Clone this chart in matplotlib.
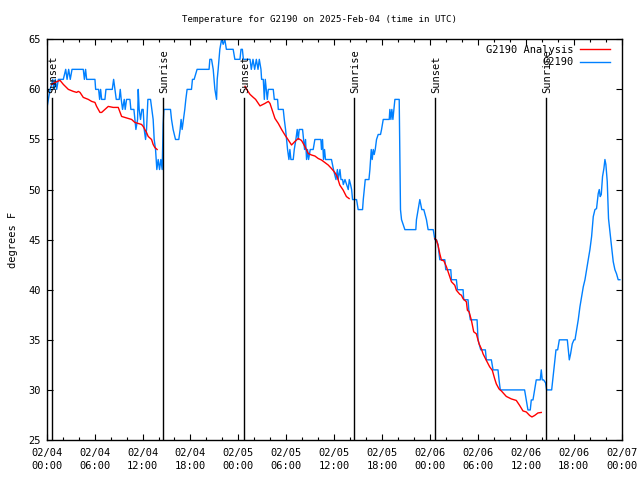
import numpy as np
import matplotlib
matplotlib.use("Agg")
import matplotlib.pyplot as plt
from matplotlib.ticker import MultipleLocator

# ---------------- data (hours since 2025-02-04 00:00 UTC) ----------------
obs_hours = [0.0, 0.21, 0.42, 0.63, 0.75, 0.92, 1.08, 1.25, 1.46, 2.08, 2.38, 2.55, 2.75, 2.95,
             3.17, 3.29, 4.58, 4.72, 4.87, 5.0, 6.04, 6.13, 6.5, 6.63, 6.75, 6.88, 7.29,
             7.42, 8.21, 8.38, 8.54, 8.71, 9.08, 9.21, 9.33, 9.5, 9.71, 9.83, 10.0, 10.42, 10.54,
             10.92, 11.04, 11.17, 11.38, 11.46, 11.58, 11.75, 11.92, 12.08, 12.21, 12.38, 12.5,
             12.67, 13.0, 13.17, 13.33, 13.46, 13.63, 13.79, 13.96, 14.13, 14.29, 14.46, 14.58,
             14.67, 15.5, 15.63, 15.83, 16.13, 16.54, 16.71, 16.83, 16.96, 17.13, 17.29, 17.42,
             17.58, 18.13, 18.25, 18.46, 18.83, 20.33, 20.43, 20.64, 20.85, 21.06, 21.27, 21.35,
             21.47, 21.68, 21.9, 22.1, 22.3, 22.5, 23.35, 23.56, 24.2, 24.33, 24.5, 24.63, 25.46,
             25.62, 25.83, 26.04, 26.25, 26.46, 26.62, 26.83, 26.91, 27.12,
             27.25, 27.37, 27.5, 27.62, 27.75, 28.37, 28.5, 28.91, 29.0, 29.62, 29.75, 29.91,
             30.04, 30.16, 30.33, 30.45, 30.58, 30.87, 31.0, 31.2, 31.37, 31.5, 31.62, 32.04,
             32.16, 32.29, 32.41, 32.54, 32.66, 32.79, 33.0, 33.37, 33.58, 34.33, 34.41, 34.54,
             34.66, 34.79, 34.91, 35.66, 35.91, 36.22, 36.4, 36.5, 36.72, 36.85, 37.05, 37.14,
             37.35, 37.55, 37.76, 37.89, 38.05, 38.18, 38.3, 38.8, 39.0, 39.55, 39.64, 39.76,
             39.89, 40.35, 40.47, 40.55, 40.64, 40.76, 40.89, 41.01, 41.14, 41.3, 41.51, 41.8,
             41.93, 42.14, 42.89, 42.97, 43.1, 43.22, 43.35, 43.47, 43.6, 44.14, 44.3, 44.43,
             44.64, 44.85, 46.22, 46.3, 46.51, 46.72, 46.85, 46.97, 47.22, 47.39, 47.55, 47.76,
             48.4, 48.6, 48.8, 49.0, 49.22, 49.85, 49.97, 50.6, 50.68, 51.3, 51.43, 52.14,
             52.22, 52.76, 52.85, 53.05, 53.89, 54.01, 54.35, 54.93, 55.05, 55.68, 55.89, 56.51,
             56.64, 56.8, 59.84, 60.05, 60.26, 60.55, 60.68, 60.89, 61.1, 61.3, 61.8, 61.93,
             62.05, 62.22, 62.47, 62.6, 63.23, 63.44, 63.65, 63.77, 63.98, 64.19, 65.19, 65.31,
             65.44, 65.6, 65.81, 66.02, 66.15, 66.35, 66.56, 66.77, 66.98, 67.19, 67.4, 67.6,
             67.81, 68.02, 68.23, 68.44, 68.65, 68.85, 69.06, 69.19, 69.31, 69.44, 69.6, 69.77,
             69.9, 70.02, 70.19, 70.35, 70.52, 70.73, 70.94, 71.15, 71.35, 71.56, 71.77]
obs_temps = [58, 59, 60, 60.5, 61, 60, 61, 60, 61, 61, 62, 61, 62, 61,
             62, 62, 62, 61, 62, 61, 61, 60, 60, 59, 60, 59, 59,
             60, 60, 61, 60, 59, 59, 60, 59, 58, 59, 58, 59, 59, 58,
             58, 57, 56, 57, 60, 58, 57, 58, 58, 56, 55, 56,
             59, 59, 58, 57, 55, 54, 52, 53, 52, 53, 52, 56.5,
             58, 58, 57, 56, 55, 55, 56, 57, 56, 57, 58, 59,
             60, 60, 61, 61, 62, 62, 63, 63, 62, 60, 59, 61,
             62, 64, 65, 64.5, 65, 64, 64, 63, 63, 64, 64, 63, 63,
             62, 63, 62, 63, 62, 63, 62, 61, 61,
             59, 61, 60, 59, 60, 60, 59, 59, 58, 58, 57, 56,
             55, 54, 53, 54, 53, 53, 54, 55, 56, 55, 56, 56,
             55, 54, 55, 53, 54, 53, 54, 54, 55, 55, 54, 55,
             53, 54, 53, 53, 52, 51, 52, 51, 52, 51, 51, 50.5,
             51, 50.5, 50, 51, 50.5, 50, 49, 49, 48, 48, 49, 50,
             51, 51, 52, 53, 54, 53, 54, 53.5, 54, 55, 55.5, 55.5,
             56, 57, 57, 58, 57, 58, 57, 58, 59, 59, 48, 47,
             46.5, 46, 46, 47, 48, 49, 48.5, 48, 48, 47.5, 47, 46,
             46, 45, 45, 44.5, 43, 43, 42, 42, 41, 41, 40, 40,
             39, 39, 38, 37, 37, 35, 34, 34, 33, 33, 32, 32,
             31, 30, 30, 29, 28, 28, 29, 29, 30, 31, 31, 32,
             31, 31, 30.7, 30, 30, 31.6, 33.1, 34, 34, 35, 35, 34,
             33, 33.6, 34.6, 35, 35, 36, 37, 38.3, 39.3, 40.3, 41, 42,
             43, 44, 45.3, 47.3, 48, 48.1, 49.6, 50, 49.3, 49.5, 51.3, 52.1,
             53, 52.5, 50.8, 47.1, 45.8, 44.3, 42.8, 42, 41.6, 41, 41]

ana1_hours = [0.63, 1.04, 1.67, 2.08, 2.71, 3.33, 3.75, 3.96, 4.17, 4.58, 5.21, 5.63, 6.04, 6.25,
              6.67, 6.88, 7.29, 7.71, 8.33, 8.96, 9.38, 9.79, 10.21, 10.63, 11.04, 11.46, 11.88,
              12.08, 12.5, 12.71, 13.13, 13.33, 13.54, 13.83]
ana1_temps = [60.5, 60.7, 60.9, 60.5, 60.0, 59.8, 59.7, 59.8, 59.7, 59.2, 59.0, 58.8, 58.7, 58.3,
              57.7, 57.7, 58.0, 58.3, 58.2, 58.2, 57.3, 57.2, 57.1, 57.0, 56.7, 56.6, 56.5,
              56.3, 55.7, 55.3, 55.0, 54.5, 54.2, 54.0]
ana2_hours = [24.83, 25.04, 25.46, 25.87, 26.16, 26.71, 27.33, 27.75, 27.96, 28.58, 29.0, 29.41,
              29.83, 30.25, 30.66, 31.08, 31.5, 31.91, 32.33, 32.75, 33.16, 33.58, 34.0, 34.41,
              34.83, 35.25, 35.66, 36.08, 36.37, 36.7, 37.12, 37.53, 37.87]
ana2_temps = [60.3, 60.0, 59.5, 59.2, 59.0, 58.35, 58.6, 58.8, 58.6, 57.1, 56.6, 56.0,
              55.45, 54.95, 54.45, 54.8, 55.1, 54.9, 54.3, 53.6, 53.45, 53.35, 53.1, 52.95,
              52.7, 52.45, 52.1, 51.7, 51.3, 50.45, 49.95, 49.3, 49.1]
ana3_hours = [48.6, 48.8, 49.0, 49.22, 49.43, 49.72, 50.05, 50.26, 50.68, 51.1, 51.3, 51.72, 51.93,
              52.14, 52.55, 52.68, 52.89, 53.18, 53.47, 53.8, 54.14, 54.43, 54.64, 55.05, 55.47,
              55.8, 56.1, 56.3, 56.64, 56.93, 57.55, 58.18, 58.8, 59.22, 59.64, 60.05, 60.47,
              60.76, 61.1, 61.51, 61.93]
ana3_temps = [45.1, 44.95, 44.45, 43.6, 42.95, 42.9, 42.3, 41.8, 40.8, 40.45, 39.95, 39.55, 39.45,
              39.1, 38.8, 37.95, 37.8, 36.95, 35.8, 35.6, 34.6, 34.1, 33.6, 32.95, 32.3,
              31.95, 31.1, 30.6, 30.1, 29.9, 29.35, 29.1, 28.95, 28.45, 27.9, 27.8, 27.45,
              27.3, 27.45, 27.7, 27.75]

sun_hours = [0.7, 14.6, 24.74, 38.5, 48.66, 62.56]
sun_labels = ["Sunset", "Sunrise", "Sunset", "Sunrise", "Sunset", "Sunrise"]
sun_line_top = 59.1

xtick_hours = [0, 6, 12, 18, 24, 30, 36, 42, 48, 54, 60, 66, 72]
xtick_labels = ["02/04\n00:00", "02/04\n06:00", "02/04\n12:00", "02/04\n18:00",
                "02/05\n00:00", "02/05\n06:00", "02/05\n12:00", "02/05\n18:00",
                "02/06\n00:00", "02/06\n06:00", "02/06\n12:00", "02/06\n18:00",
                "02/07\n00:00"]

title = "Temperature for G2190 on 2025-Feb-04 (time in UTC)"

# ---------------- plot ----------------
FS = 7.5
plt.rcParams['font.family'] = ['DejaVu Sans Mono']
plt.rcParams['font.size'] = FS

fig = plt.figure(figsize=(6.4, 4.8), dpi=100)
ax = fig.add_axes([46.7 / 640, 1 - 440 / 480, (621.7 - 46.7) / 640, (440 - 39.3) / 480])

RED = "#ff0000"
BLUE = "#0080ff"

ana_h = ana1_hours + [np.nan] + ana2_hours + [np.nan] + ana3_hours
ana_t = ana1_temps + [np.nan] + ana2_temps + [np.nan] + ana3_temps
ax.plot(ana_h, ana_t, color=RED, lw=1.0, label="G2190 Analysis", zorder=3)
ax.plot(obs_hours, obs_temps, color=BLUE, lw=1.0, label="G2190", zorder=2)

for h, lab in zip(sun_hours, sun_labels):
    ax.plot([h, h], [25, sun_line_top], color="black", lw=1.0, zorder=4)
    ax.text(h + 0.12, sun_line_top + 0.55, lab, rotation=90, ha="center", va="bottom",
            fontsize=FS, zorder=5)

ax.set_xlim(0, 72)
ax.set_ylim(25, 65)
ax.set_xticks(xtick_hours)
ax.set_xticklabels(xtick_labels, linespacing=1.4)
ax.xaxis.set_minor_locator(MultipleLocator(2))
ax.set_yticks(np.arange(25, 66, 5))

ax.tick_params(axis="both", which="major", direction="in", length=4, width=0.8,
               top=True, right=True, labelsize=FS, pad=4)
ax.tick_params(axis="x", which="major", pad=5.5)
ax.tick_params(axis="x", which="minor", direction="in", length=2, width=0.8, top=True)
for s in ax.spines.values():
    s.set_linewidth(1.0)

ax.set_ylabel("degrees F", fontsize=FS, labelpad=8)
fig.text(0.5, 1 - 20 / 480, title, ha="center", va="center", fontsize=6.6)

leg = ax.legend(loc="upper right", bbox_to_anchor=(0.9873, 0.9968), frameon=False,
                markerfirst=False, handlelength=2.9, handletextpad=0.6, borderaxespad=0.0,
                labelspacing=0.25, fontsize=FS)

fig.savefig("out.png", dpi=100)
